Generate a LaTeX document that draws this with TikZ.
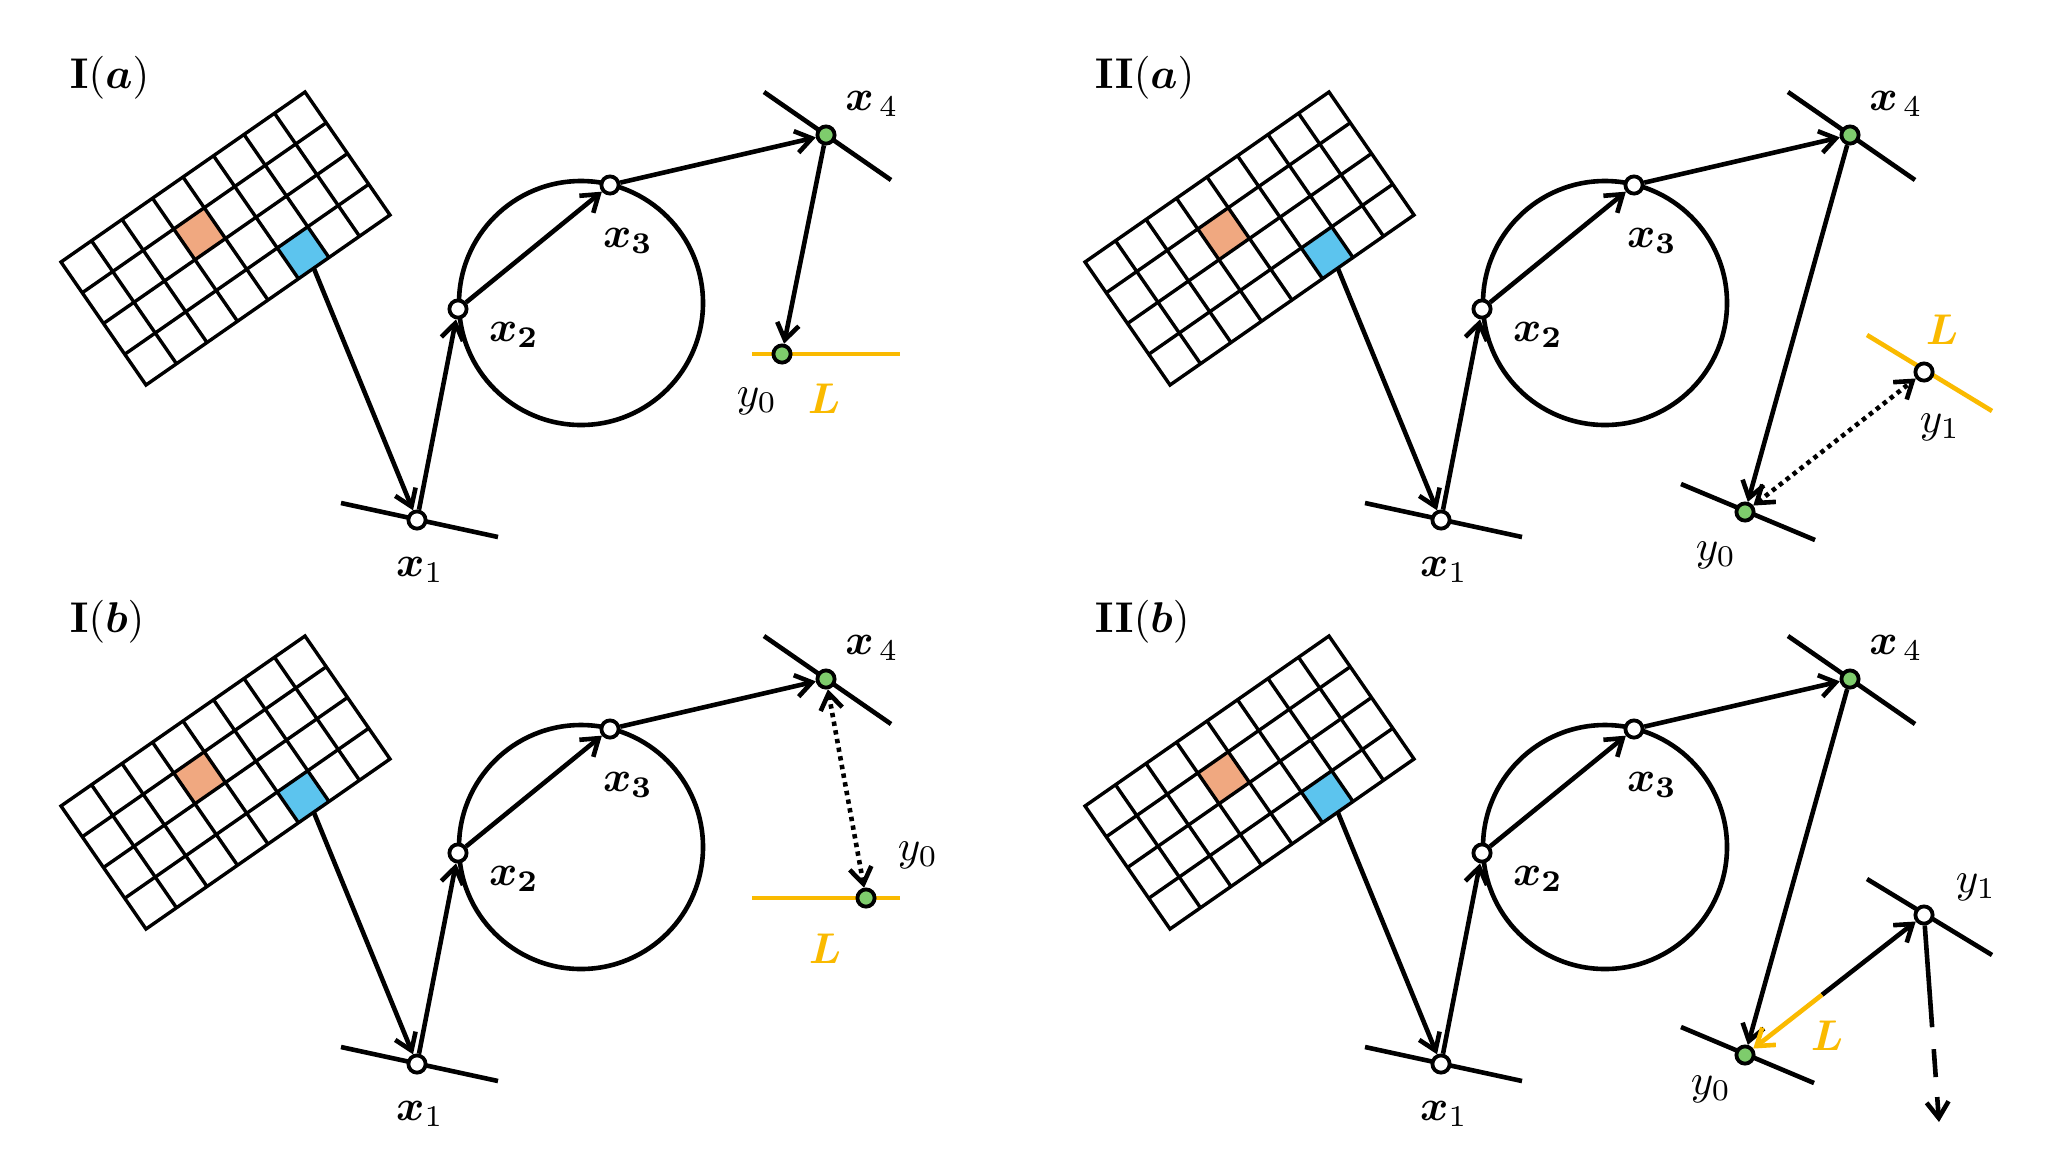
\documentclass[tikz,border=0pt]{standalone}
\usepackage{amsmath,bm}
\usetikzlibrary{arrows.meta,calc}
\definecolor{ptgreen}{RGB}{126,204,108}
\definecolor{cellorange}{RGB}{240,168,128}
\definecolor{cellblue}{RGB}{92,196,238}
\definecolor{lyellow}{RGB}{250,186,0}
\tikzset{
  ln/.style={line width=2.3pt},
  gridln/.style={line width=1.7pt},
  arr/.style={line width=2.3pt,-{Straight Barb[length=8pt,width=11pt]}},
  dotarr/.style={line width=2.3pt,dash pattern=on 2.2pt off 2.2pt,{Straight Barb[length=8pt,width=11pt]}-{Straight Barb[length=8pt,width=11pt]}},
  dasharr/.style={line width=2.3pt,dash pattern=on 51pt off 11pt on 14pt off 10pt,-{Straight Barb[length=8pt,width=11pt]}},
  wpt/.style={circle,draw,line width=1.9pt,fill=white,minimum size=8.6pt,inner sep=0pt},
  gpt/.style={wpt,fill=ptgreen},
  lab/.style={inner sep=0pt,scale=2.15},
  ttl/.style={lab,anchor=west},
}
\newcommand\drawbase[3]{%
\begin{scope}[shift={(#2,#3)}]
  \begin{scope}[shift={(61,262)},x={(15.25pt,10.625pt)},y={(10.625pt,-15.375pt)}]
    \fill[cellorange] (3,1) -- (4,1) -- (4,2) -- (3,2) -- cycle;
    \fill[cellblue] (5,3) -- (6,3) -- (6,4) -- (5,4) -- cycle;
    \foreach \i in {1,...,7} \draw[gridln] (\i,0) -- (\i,4);
    \foreach \j in {1,...,3} \draw[gridln] (0,\j) -- (8,\j);
    \draw[gridln] (0,0) -- (8,0) -- (8,4) -- (0,4) -- cycle;
    \coordinate (#1gs) at (5.5,4);
  \end{scope}
  \draw[ln] (581,303) circle[radius=61pt];
  \draw[ln] (341,503) -- (498,537);
  \draw[ln] (764,92) -- (891,180);
  \node[wpt] (#1x1) at (417,520) {};
  \node[wpt] (#1x2) at (458,309) {};
  \node[wpt] (#1x3) at (610,185) {};
  \node[gpt] (#1x4) at (826,135) {};
  \draw[arr] (#1gs) -- (#1x1);
  \draw[arr] (#1x1) -- (#1x2);
  \draw[arr] (#1x2) -- (#1x3);
  \draw[arr] (#1x3) -- (#1x4);
  \node[lab] (#1lx1) at (420,570) {$\boldsymbol{x}_1$};
  \node[lab] (#1lx2) at (514,335) {$\boldsymbol{x_2}$};
  \node[lab] (#1lx3) at (628,241) {$\boldsymbol{x_3}$};
  \node[lab] (#1lx4) at (872,104) {$\boldsymbol{x}_{\,4}$};
\end{scope}}
\begin{document}
\begin{tikzpicture}[x=0.5pt,y=-0.5pt]
\useasboundingbox (0,0) rectangle (2070,1148);
\fill[white] (0,0) rectangle (2070,1148);
% panel titles
\node[ttl] (t1) at (69,78) {$\mathbf{I}(\boldsymbol{a})$};
\node[ttl] (t2) at (69,622) {$\mathbf{I}(\boldsymbol{b})$};
\node[ttl] (t3) at (1094,78) {$\mathbf{II}(\boldsymbol{a})$};
\node[ttl] (t4) at (1094,622) {$\mathbf{II}(\boldsymbol{b})$};
% common parts
\drawbase{a}{0}{0}
\drawbase{b}{0}{544}
\drawbase{c}{1024}{0}
\drawbase{d}{1024}{544}
% I(a)
\draw[ln,lyellow] (752,354) -- (900,354);
\node[gpt] (ay0) at (782,354) {};
\draw[arr] (ax4) -- (ay0);
\node[lab] (aly0) at (757,401) {$y_0$};
\node[lab,text=lyellow] (alL) at (824,399) {$\boldsymbol{L}$};
% I(b)
\draw[ln,lyellow] (752,898) -- (900,898);
\node[gpt] (by0) at (866,898) {};
\draw[dotarr] (bx4) -- (by0);
\node[lab] (bly0) at (918,855) {$y_0$};
\node[lab,text=lyellow] (blL) at (825,949) {$\boldsymbol{L}$};
% II(a)
\draw[ln] (1681,484) -- (1815,540);
\draw[ln,lyellow] (1867,335) -- (1992,411);
\node[gpt] (cy0) at (1745,512) {};
\node[wpt] (cy1) at (1924,372) {};
\draw[arr] (cx4) -- (cy0);
\draw[dotarr] (cy0) -- (cy1);
\node[lab] (cly0) at (1716,555) {$y_0$};
\node[lab] (cly1) at (1940,427) {$y_1$};
\node[lab,text=lyellow] (clL) at (1942,330) {$\boldsymbol{L}$};
% II(b)
\draw[ln] (1681,1027) -- (1814,1083);
\draw[ln] (1867,879) -- (1992,955);
\node[gpt] (dy0) at (1745,1055) {};
\node[wpt] (dy1) at (1924,915) {};
\draw[arr] (dx4) -- (dy0);
\coordinate (dS) at ($(dy0)!0.43!(dy1)$);
\draw[arr] (dS) -- (dy1);
\draw[arr,lyellow] (dS) -- (dy0);
\coordinate (dE) at (1939,1122);
\draw[dasharr] (dy1) -- (dE);
\node[lab] (dly0) at (1711,1089) {$y_0$};
\node[lab] (dly1) at (1976,887) {$y_1$};
\node[lab,text=lyellow] (dlL) at (1827,1036) {$\boldsymbol{L}$};
\end{tikzpicture}
\end{document}
